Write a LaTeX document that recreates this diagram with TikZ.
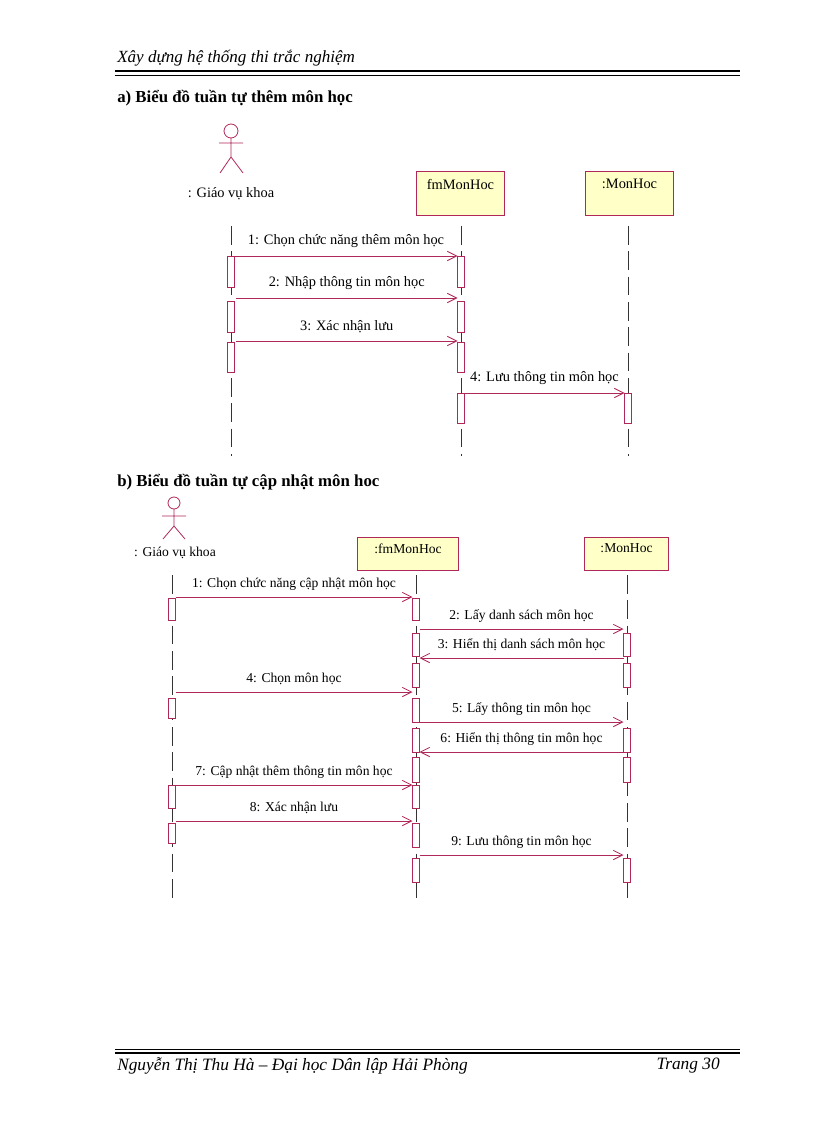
\documentclass[tikz,border=0pt]{standalone}
\usepackage{fontspec}
\setmainfont{Liberation Serif}
\usetikzlibrary{arrows.meta}
\definecolor{uml}{HTML}{B0285A}
\definecolor{boxfill}{HTML}{FFFFC8}
\tikzset{
 life/.style={draw=black!80,dash pattern=on 14pt off 5pt,line width=0.6pt},
 act/.style={draw=uml,fill=white,line width=0.6pt},
 msg/.style={draw=uml,line width=0.6pt,-{Straight Barb[length=7pt,width=7pt]}},
 obj/.style={draw=uml,fill=boxfill,line width=0.8pt},
 lbl/.style={font=\fontsize{10.8}{12}\selectfont,inner sep=0pt},
 lblb/.style={font=\fontsize{10.2}{11}\selectfont,inner sep=0pt},
 actor/.style={draw=uml,line width=0.6pt}
}
\begin{document}
\begin{tikzpicture}[x=0.75pt,y=-0.75pt]
\useasboundingbox (0,0) rectangle (816,1123);
% header
\node[anchor=west,font=\itshape\fontsize{12.8}{14}\selectfont,inner sep=0pt] (hdr) at (117,58) {Xây dựng hệ thống thi trắc nghiệm};
\draw[line width=2.2pt] (115,71) -- (740,71);
\draw[line width=0.6pt] (115,75.5) -- (740,75.5);
% footer
\draw[line width=0.6pt] (115,1049) -- (740,1049);
\draw[line width=2.2pt] (115,1053) -- (740,1053);
\node[anchor=west,font=\itshape\fontsize{13}{14}\selectfont,inner sep=0pt] (ftr) at (117,1066) {Nguyễn Thị Thu Hà – Đại học Dân lập Hải Phòng};
\node[anchor=east,font=\itshape\fontsize{13}{14}\selectfont,inner sep=0pt] (pg) at (720,1066) {Trang 30};

% ===== part a =====
\node[anchor=west,font=\bfseries\fontsize{12.6}{14}\selectfont,inner sep=0pt] (ta) at (117,98) {a) Biểu đồ tuần tự thêm môn học};
\draw[actor] (231,131) circle (7);
\draw[actor] (231,138) -- (231,157) (219,143) -- (243,143) (220,173) -- (231,157) -- (243,173);
\node[lbl] (aa) at (231,194) {: Giáo vụ khoa};
\node[obj,minimum width=88pt*0.75,minimum height=44pt*0.75,anchor=north west] (fa) at (416,171) {};
\node[lbl,anchor=north] at ([yshift=-6pt]fa.north) {fmMonHoc};
\node[obj,minimum width=88pt*0.75,minimum height=44pt*0.75,anchor=north west] (ma) at (585,171) {};
\node[lbl,anchor=north] at ([yshift=-6pt]ma.north) {:MonHoc};
\coordinate (a1) at (231,226); \coordinate (a2) at (231,456);
\coordinate (f1) at (461,226); \coordinate (f2) at (461,456);
\coordinate (m1) at (628,226); \coordinate (m2) at (628,456);
\draw[life] (a1) -- (a2); \draw[life] (f1) -- (f2); \draw[life] (m1) -- (m2);
\foreach \x/\ya/\yb in {231/256/287,231/301/332,231/342/372,461/256/287,461/301/332,461/342/372,461/393/423,628/393/423}
  \draw[act] (\x-3.5,\ya) rectangle (\x+3.5,\yb);
\draw[msg] (234.5,256) -- node[lbl,above=6pt]{1: Chọn chức năng thêm môn học} (457.5,256);
\draw[msg] (236,298) -- node[lbl,above=6pt]{2: Nhập thông tin môn học} (457.5,298);
\draw[msg] (236,341) -- node[lbl,above=6pt]{3: Xác nhận lưu} (457.5,341);
\draw[msg] (464.5,393) -- node[lbl,above=6pt]{4: Lưu thông tin môn học} (624.5,393);

% ===== part b =====
\node[anchor=west,font=\bfseries\fontsize{12.6}{14}\selectfont,inner sep=0pt] (tb) at (117,482) {b) Biểu đồ tuần tự cập nhật môn hoc};
\draw[actor] (174,503) circle (6);
\draw[actor] (174,509) -- (174,526) (162,516) -- (186,516) (163,539) -- (174,526) -- (185,539);
\node[lblb] (ab) at (175,553) {: Giáo vụ khoa};
\node[obj,minimum width=101pt*0.75,minimum height=33pt*0.75,anchor=north west] (fb) at (357,537) {};
\node[lblb,anchor=north] at ([yshift=-5pt]fb.north) {:fmMonHoc};
\node[obj,minimum width=84pt*0.75,minimum height=33pt*0.75,anchor=north west] (mb) at (584,537) {};
\node[lblb,anchor=north] at ([yshift=-5pt]mb.north) {:MonHoc};
\draw[life] (172,575) -- (172,900); \draw[life] (416,575) -- (416,900); \draw[life] (627,575) -- (627,900);
\foreach \x/\ya/\yb in {172/598/620,172/698/718,172/785/808,172/823/843,
 416/598/620,416/633/656,416/663/687,416/698/722,416/728/752,416/757/782,416/785/808,416/823/847,416/858/882,
 627/633/656,627/663/687,627/728/752,627/757/782,627/858/882}
  \draw[act] (\x-3.5,\ya) rectangle (\x+3.5,\yb);
\draw[msg] (175.5,597) -- node[lblb,above=5pt]{1: Chọn chức năng cập nhật môn học} (412.5,597);
\draw[msg] (419.5,629) -- node[lblb,above=5pt]{2: Lấy danh sách môn học} (623.5,629);
\draw[msg] (623.5,658) -- node[lblb,above=5pt]{3: Hiển thị danh sách môn học} (419.5,658);
\draw[msg] (175.5,692) -- node[lblb,above=5pt]{4: Chọn môn học} (412.5,692);
\draw[msg] (419.5,722) -- node[lblb,above=5pt]{5: Lấy thông tin môn học} (623.5,722);
\draw[msg] (623.5,752) -- node[lblb,above=5pt]{6: Hiển thị thông tin môn học} (419.5,752);
\draw[msg] (175.5,785) -- node[lblb,above=5pt]{7: Cập nhật thêm thông tin môn học} (412.5,785);
\draw[msg] (175.5,821) -- node[lblb,above=5pt]{8: Xác nhận lưu} (412.5,821);
\draw[msg] (419.5,855) -- node[lblb,above=5pt]{9: Lưu thông tin môn học} (623.5,855);
\end{tikzpicture}
\end{document}
